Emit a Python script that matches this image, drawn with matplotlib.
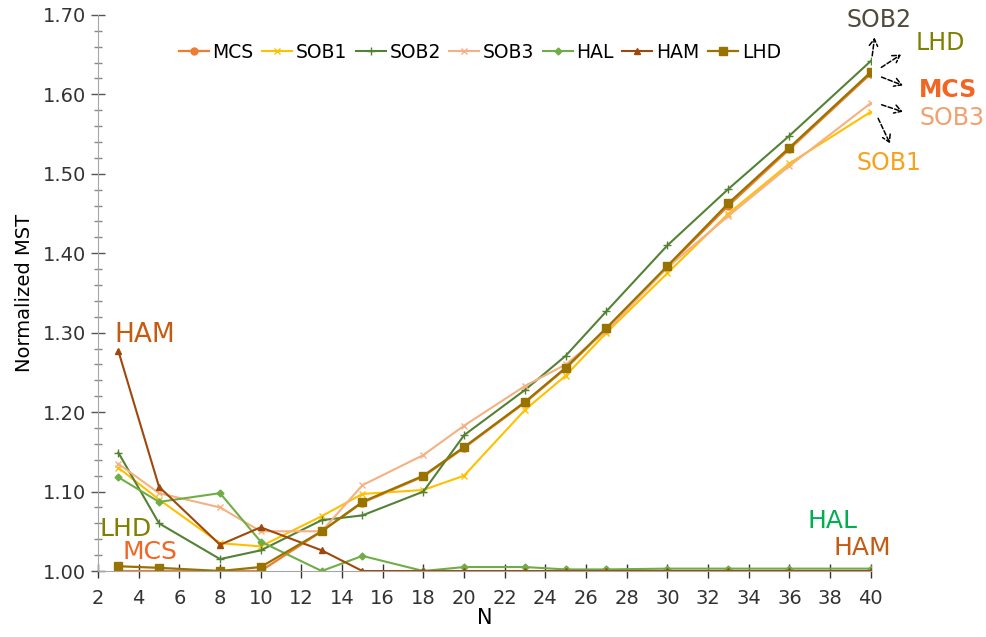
import matplotlib
matplotlib.use("Agg")
import matplotlib.pyplot as plt
from matplotlib.ticker import MultipleLocator, FormatStrFormatter

# sample sizes
N = [3, 5, 8, 10, 13, 15, 18, 20, 23, 25, 27, 30, 33, 36, 40]

# normalized MST per design
mcs = [1.000, 1.000, 1.000, 1.000, 1.050, 1.086, 1.119, 1.155, 1.212, 1.255, 1.305, 1.383, 1.460, 1.531, 1.626]
sob1 = [1.130, 1.090, 1.035, 1.031, 1.069, 1.097, 1.102, 1.120, 1.203, 1.246, 1.300, 1.375, 1.450, 1.513, 1.578]
sob2 = [1.149, 1.060, 1.015, 1.026, 1.064, 1.070, 1.100, 1.171, 1.228, 1.271, 1.327, 1.410, 1.481, 1.548, 1.642]
sob3 = [1.135, 1.098, 1.080, 1.050, 1.050, 1.108, 1.146, 1.183, 1.233, 1.260, 1.302, 1.382, 1.447, 1.510, 1.589]
hal = [1.118, 1.087, 1.098, 1.037, 1.000, 1.019, 1.000, 1.005, 1.005, 1.002, 1.002, 1.003, 1.003, 1.003, 1.003]
ham = [1.277, 1.106, 1.033, 1.055, 1.026, 1.000, 1.000, 1.000, 1.000, 1.000, 1.000, 1.000, 1.000, 1.000, 1.000]
lhd = [1.006, 1.004, 1.000, 1.005, 1.050, 1.087, 1.120, 1.156, 1.213, 1.256, 1.306, 1.384, 1.463, 1.533, 1.628]

fig = plt.figure(figsize=(9.87, 6.37), dpi=100)
ax = fig.add_axes([0.0993, 0.1036, 0.783, 0.873])

ax.plot(N, mcs, color="#ED7D31", marker="o", ms=5, lw=1.6, label="MCS")
ax.plot(N, sob1, color="#FFC000", marker="x", ms=5, lw=1.5, label="SOB1")
ax.plot(N, sob2, color="#548235", marker="+", ms=6, lw=1.5, label="SOB2")
ax.plot(N, sob3, color="#F4B183", marker="x", ms=5, lw=1.5, label="SOB3")
ax.plot(N, hal, color="#70AD47", marker="D", ms=3.5, lw=1.5, label="HAL")
ax.plot(N, ham, color="#9E480E", marker="^", ms=5, lw=1.5, label="HAM")
ax.plot(N, lhd, color="#997300", marker="s", ms=6, lw=1.6, label="LHD")

ax.set_xlim(2, 40)
ax.set_ylim(1.0, 1.7)
ax.xaxis.set_major_locator(MultipleLocator(2))
ax.yaxis.set_major_locator(MultipleLocator(0.1))
ax.yaxis.set_minor_locator(MultipleLocator(0.02))
ax.yaxis.set_major_formatter(FormatStrFormatter("%.2f"))

for s in ["top", "right"]:
    ax.spines[s].set_visible(False)
ax.spines["left"].set_color("#A6A6A6")
ax.spines["bottom"].set_color("#A6A6A6")
ax.tick_params(axis="x", direction="inout", length=10, width=1, color="#333333",
               labelsize=14, pad=8)
ax.tick_params(axis="y", which="major", direction="inout", length=10, width=1,
               color="#555555", labelsize=14)
ax.tick_params(axis="y", which="minor", direction="inout", length=6, width=1,
               color="#888888")
for lab in ax.get_xticklabels() + ax.get_yticklabels():
    lab.set_color("#333333")

ax.set_xlabel("N", fontsize=15, labelpad=0)
ax.set_ylabel("Normalized MST", fontsize=14, labelpad=6)

ax.legend(loc="center", bbox_to_anchor=(0.494, 0.933), ncol=7, frameon=False,
          fontsize=13.5, handlelength=1.6, handletextpad=0.2, columnspacing=0.45,
          borderaxespad=0)

# labels on the left
ax.text(2.8, 1.297, "HAM", color="#C55A11", fontsize=19, ha="left", va="center")
ax.text(2.05, 1.053, "LHD", color="#808000", fontsize=18, ha="left", va="center")
ax.text(3.2, 1.024, "MCS", color="#F26522", fontsize=18, ha="left", va="center")

# labels on the right
ax.text(38.1, 1.063, "HAL", color="#00B050", fontsize=18, ha="center", va="center", clip_on=False)
ax.text(39.6, 1.029, "HAM", color="#C55A11", fontsize=18, ha="center", va="center", clip_on=False)

ax.text(40.4, 1.694, "SOB2", color="#4F4A3A", fontsize=17, ha="center", va="center", clip_on=False)
ax.text(43.4, 1.665, "LHD", color="#808000", fontsize=17, ha="center", va="center", clip_on=False)
ax.text(43.8, 1.605, "MCS", color="#F26522", fontsize=17, ha="center", va="center",
        fontweight="bold", clip_on=False)
ax.text(44.0, 1.570, "SOB3", color="#F4A06E", fontsize=17, ha="center", va="center", clip_on=False)
ax.text(40.9, 1.513, "SOB1", color="#F7A21B", fontsize=17, ha="center", va="center", clip_on=False)

arr = dict(arrowstyle="->,head_length=0.5,head_width=0.3", color="black", lw=1.1,
           linestyle=(0, (3, 1.5)))
ax.annotate("", xy=(40.2, 1.675), xytext=(40.05, 1.645), arrowprops=arr, annotation_clip=False)
ax.annotate("", xy=(41.6, 1.652), xytext=(40.4, 1.632), arrowprops=arr, annotation_clip=False)
ax.annotate("", xy=(41.7, 1.610), xytext=(40.4, 1.623), arrowprops=arr, annotation_clip=False)
ax.annotate("", xy=(41.7, 1.577), xytext=(40.4, 1.588), arrowprops=arr, annotation_clip=False)
ax.annotate("", xy=(41.0, 1.535), xytext=(40.3, 1.573), arrowprops=arr, annotation_clip=False)

fig.savefig("out.png", dpi=100)
